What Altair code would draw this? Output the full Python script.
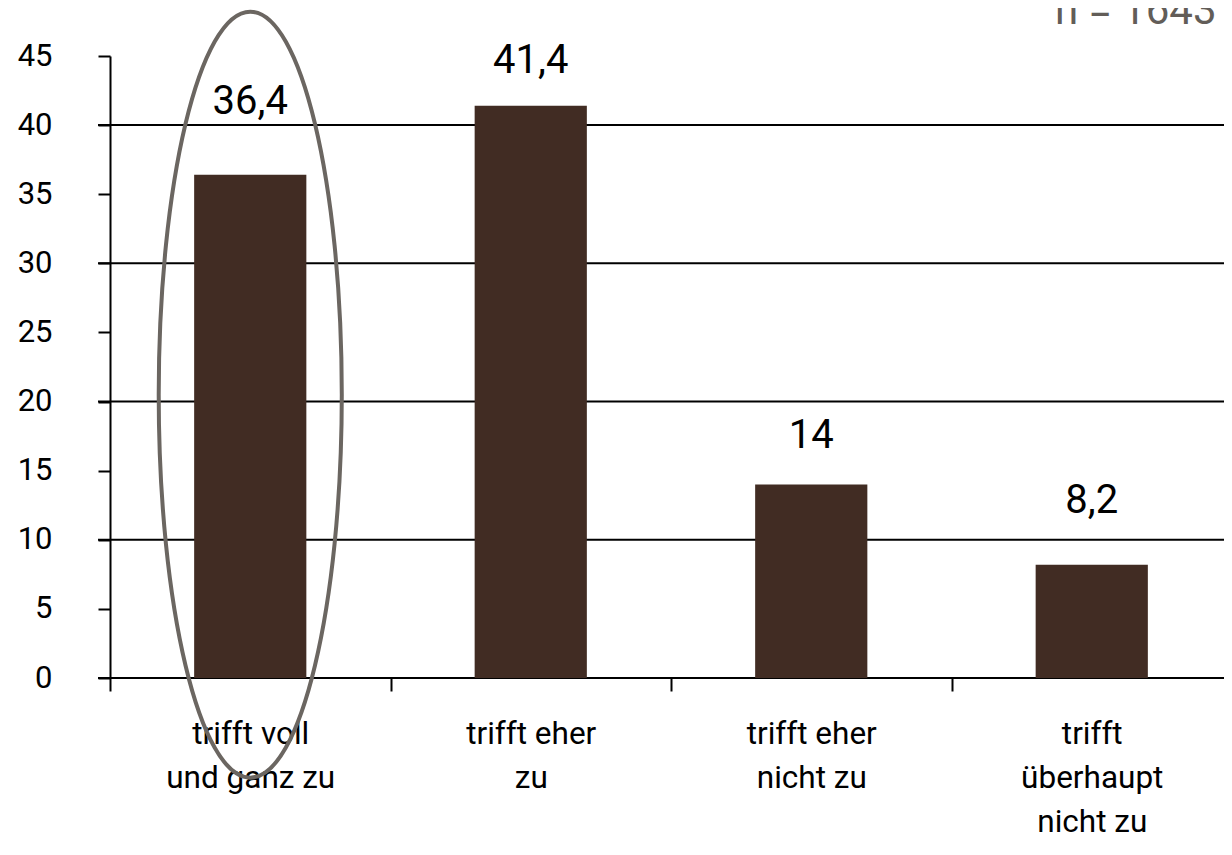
import altair as alt
import pandas as pd

# ---- data ----
categories = [
    "trifft voll\nund ganz zu",
    "trifft eher\nzu",
    "trifft eher\nnicht zu",
    "trifft\nüberhaupt\nnicht zu",
]
values = [36.4, 41.4, 14.0, 8.2]
value_labels = ["36,4", "41,4", "14", "8,2"]
y_ticks = [0, 5, 10, 15, 20, 25, 30, 35, 40, 45]
grid_values = [0, 10, 20, 30, 40]
sample_note = "n = 1643"
highlight_category = categories[0]
highlight_center = 20.5

FONT = "Roboto"
BAR = "#412c23"
GRAY = "#6b6661"

df = pd.DataFrame({"cat": categories, "val": values, "lab": value_labels})
grid_df = pd.DataFrame({"g": grid_values})

W, H = 1122, 622

x_scale = alt.Scale(domain=categories, paddingInner=0, paddingOuter=0)
x_enc = alt.X(
    "cat:N",
    scale=x_scale,
    axis=alt.Axis(
        title=None,
        labelAngle=0,
        labelExpr="split(datum.label, '\\n')",
        labelFont=FONT,
        labelFontSize=31.5,
        labelColor="black",
        labelLineHeight=44,
        labelPadding=27,
        labelBaseline="top",
        labelLimit=400,
        tickBand="extent",
        tickSize=13,
        tickWidth=2,
        tickColor="black",
        domain=False,
        grid=False,
    ),
)
y_scale = alt.Scale(domain=[0, 45], nice=False)
y_enc = alt.Y(
    "val:Q",
    scale=y_scale,
    axis=alt.Axis(
        title=None,
        values=y_ticks,
        labelFont=FONT,
        labelFontSize=31,
        labelColor="black",
        labelPadding=46,
        tickSize=12,
        tickWidth=2,
        tickColor="black",
        domainColor="black",
        domainWidth=2,
        grid=False,
    ),
)

grid = alt.Chart(grid_df).mark_rule(color="black", strokeWidth=2).encode(
    y=alt.Y("g:Q", scale=y_scale),
    x=alt.value(-12),
    x2=alt.value(W),
)

bars = alt.Chart(df).mark_bar(width=alt.RelativeBandSize(0.4), color=BAR).encode(
    x=x_enc, y=y_enc
)

label_gaps = [61, 33, 36, 52]
texts = []
for cat, gap in zip(categories, label_gaps):
    texts.append(
        alt.Chart(df)
        .transform_filter(alt.datum.cat == cat)
        .mark_text(
            font=FONT, fontSize=40, color="black", baseline="alphabetic", dy=-gap
        )
        .encode(
            x=alt.X("cat:N", scale=x_scale),
            y=alt.Y("val:Q", scale=y_scale),
            text="lab:N",
        )
    )

ellipse_path = "M0,-1 A0.239,1 0 1,1 0,1 A0.239,1 0 1,1 0,-1 Z"
ellipse = alt.Chart(
    pd.DataFrame({"cat": [highlight_category], "v": [highlight_center]})
).mark_point(
    shape=ellipse_path,
    size=766 * 766,
    filled=False,
    stroke=GRAY,
    strokeWidth=4,
    opacity=1,
).encode(x=alt.X("cat:N", scale=x_scale), y=alt.Y("v:Q", scale=y_scale))

note = alt.Chart(pd.DataFrame({"t": [sample_note]})).mark_text(
    font=FONT, fontSize=42, color="#625d58", align="left", baseline="alphabetic"
).encode(x=alt.value(945), y=alt.value(-32), text="t:N")

chart = (
    alt.layer(grid, bars, *texts, ellipse, note)
    .properties(
        width=W,
        height=H,
        padding={"left": 102, "top": 48, "right": -8, "bottom": 164},
        autosize=alt.AutoSizeParams(type="none"),
    )
    .configure_view(stroke=None)
)

chart.save("out.html", embed_options={"renderer": "svg", "actions": False})
